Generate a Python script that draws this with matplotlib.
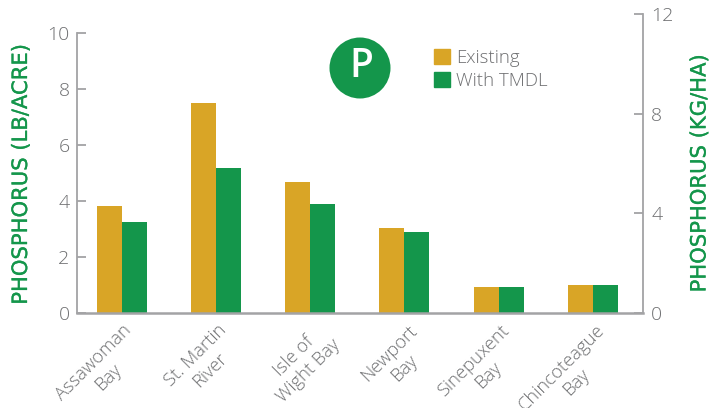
import matplotlib
matplotlib.use("Agg")
import matplotlib.pyplot as plt
import matplotlib.patheffects as pe
from matplotlib.patches import Circle, Patch
from matplotlib.transforms import ScaledTranslation
import numpy as np

categories = ["Assawoman\nBay", "St. Martin\nRiver", "Isle of\nWight Bay", "Newport\nBay", "Sinepuxent\nBay", "Chincoteague\nBay"]
existing = [3.82, 7.5, 4.68, 3.04, 0.93, 1.0]
with_tmdl = [3.25, 5.18, 3.89, 2.89, 0.93, 1.0]
left_ticks = [0, 2, 4, 6, 8, 10]
right_ticks = [0, 4, 8, 12]
series_names = ["Existing", "With TMDL"]
left_label = "PHOSPHORUS (LB/ACRE)"
right_label = "PHOSPHORUS (KG/HA)"

GOLD = "#D9A526"
GREEN = "#14964B"
GREY = "#6E6F71"
AXIS = "#A3A3A5"
W, H = 709, 408
plt.rcParams['font.family'] = ['Open Sans', 'DejaVu Sans']
fig = plt.figure(figsize=(W/100, H/100), dpi=100)

def rect(l, t, r, b):
    return [l/W, 1-b/H, (r-l)/W, (b-t)/H]

ax = fig.add_axes(rect(76.5, 33, 643, 313))
axr = fig.add_axes(rect(76.5, 14, 643, 313), facecolor='none')

x = np.arange(len(categories))
bw = 0.265
ax.bar(x-bw/2, existing, bw, color=GOLD)
ax.bar(x+bw/2, with_tmdl, bw, color=GREEN)
xlim = (-0.482, 5.534)
ax.set_xlim(*xlim)
ax.set_ylim(0, 10)
ax.set_yticks(left_ticks)
ax.set_xticks(x)
ax.set_xticklabels(categories, rotation=45, ha='right', va='top', rotation_mode='anchor',
                   multialignment='center', fontsize=13.2, color=GREY, fontweight='light')
ax.tick_params(axis='x', length=0, pad=6)
ax.tick_params(axis='y', direction='in', length=6.5, width=1.3, color=AXIS, pad=5,
               labelsize=14, labelcolor=GREY)
label_shift_px = [0, 1, 6, 4, 1, 3]
for t, shift in zip(ax.get_xticklabels(), label_shift_px):
    t.set_transform(t.get_transform() + ScaledTranslation(shift/100, 0, fig.dpi_scale_trans))
for t in ax.get_yticklabels():
    t.set_fontweight('light')
for s in ['top', 'right']:
    ax.spines[s].set_visible(False)
ax.spines['left'].set_color(AXIS)
ax.spines['left'].set_linewidth(1.3)
ax.spines['bottom'].set_color(AXIS)
ax.spines['bottom'].set_linewidth(1.8)

axr.set_xlim(*xlim)
axr.set_ylim(0, 12)
axr.set_xticks([])
axr.yaxis.tick_right()
axr.set_yticks(right_ticks)
axr.tick_params(axis='y', direction='in', length=6.5, width=1.3, color=AXIS, pad=6,
                labelsize=14, labelcolor=GREY)
for t in axr.get_yticklabels():
    t.set_fontweight('light')
for s in ['top', 'left', 'bottom']:
    axr.spines[s].set_visible(False)
axr.spines['right'].set_color(AXIS)
axr.spines['right'].set_linewidth(1.3)

stroke = [pe.withStroke(linewidth=0.2, foreground=GREEN)]
ax.set_ylabel(left_label, fontsize=15.2, color=GREEN, fontweight='normal', family='DejaVu Sans',
              va='center', path_effects=stroke)
ax.yaxis.set_label_coords((21-76.5)/(643-76.5), (313-174)/280)
axr.yaxis.set_label_position('right')
axr.set_ylabel(right_label, fontsize=15.2, color=GREEN, fontweight='normal', family='DejaVu Sans',
               rotation=90, va='center', path_effects=stroke)
axr.yaxis.set_label_coords((699.5-76.5)/(643-76.5), (313-173)/299)

fig.add_artist(Circle((360/100, (H-68)/100), 30.5/100, transform=fig.dpi_scale_trans, color=GREEN, lw=0))
fig.text(361/W, 1-67/H, "P", color='white', fontsize=28, fontweight='semibold', ha='center', va='center')

handles = [Patch(color=GOLD), Patch(color=GREEN)]
ax.legend(handles, series_names, loc='upper left', bbox_to_anchor=(434/W, 1-49/H),
          bbox_transform=fig.transFigure, frameon=False, borderpad=0, borderaxespad=0,
          handlelength=0.88, handleheight=0.88, handletextpad=0.3, labelspacing=0.28,
          prop={'size': 13.4, 'weight': 'light', 'family': 'Open Sans'}, labelcolor=GREY)

fig.savefig("out.png", dpi=100)
